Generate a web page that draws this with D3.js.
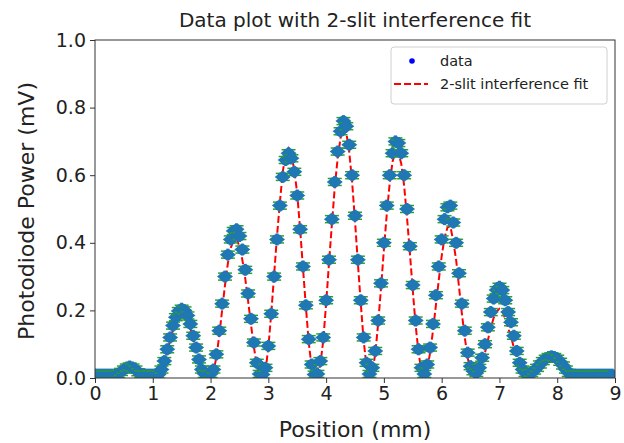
<!DOCTYPE html>
<html>
<head>
<meta charset="utf-8">
<script src="https://cdn.jsdelivr.net/npm/d3@7"></script>
<style>
  body { margin: 0; background: #fff; }
  svg { display: block; font-family: 'DejaVu Sans', sans-serif; }
</style>
</head>
<body>
<div id="chart"></div>
<script>
// detector position (mm), one sample every 0.05 mm
const positions = [
  0.00, 0.05, 0.10, 0.15, 0.20, 0.25, 0.30, 0.35, 0.40, 0.45,
  0.50, 0.55, 0.60, 0.65, 0.70, 0.75, 0.80, 0.85, 0.90, 0.95,
  1.00, 1.05, 1.10, 1.15, 1.20, 1.25, 1.30, 1.35, 1.40, 1.45,
  1.50, 1.55, 1.60, 1.65, 1.70, 1.75, 1.80, 1.85, 1.90, 1.95,
  2.00, 2.05, 2.10, 2.15, 2.20, 2.25, 2.30, 2.35, 2.40, 2.45,
  2.50, 2.55, 2.60, 2.65, 2.70, 2.75, 2.80, 2.85, 2.90, 2.95,
  3.00, 3.05, 3.10, 3.15, 3.20, 3.25, 3.30, 3.35, 3.40, 3.45,
  3.50, 3.55, 3.60, 3.65, 3.70, 3.75, 3.80, 3.85, 3.90, 3.95,
  4.00, 4.05, 4.10, 4.15, 4.20, 4.25, 4.30, 4.35, 4.40, 4.45,
  4.50, 4.55, 4.60, 4.65, 4.70, 4.75, 4.80, 4.85, 4.90, 4.95,
  5.00, 5.05, 5.10, 5.15, 5.20, 5.25, 5.30, 5.35, 5.40, 5.45,
  5.50, 5.55, 5.60, 5.65, 5.70, 5.75, 5.80, 5.85, 5.90, 5.95,
  6.00, 6.05, 6.10, 6.15, 6.20, 6.25, 6.30, 6.35, 6.40, 6.45,
  6.50, 6.55, 6.60, 6.65, 6.70, 6.75, 6.80, 6.85, 6.90, 6.95,
  7.00, 7.05, 7.10, 7.15, 7.20, 7.25, 7.30, 7.35, 7.40, 7.45,
  7.50, 7.55, 7.60, 7.65, 7.70, 7.75, 7.80, 7.85, 7.90, 7.95,
  8.00, 8.05, 8.10, 8.15, 8.20, 8.25, 8.30, 8.35, 8.40, 8.45,
  8.50, 8.55, 8.60, 8.65, 8.70, 8.75, 8.80, 8.85, 8.90, 8.95,
  9.00,
];

// measured photodiode power (mV), positions 0.00 .. 8.95
const dataPower = [
  0.010, 0.010, 0.010, 0.010, 0.010, 0.010, 0.010, 0.010, 0.012, 0.018,
  0.025, 0.031, 0.034, 0.031, 0.025, 0.017, 0.011, 0.010, 0.010, 0.010,
  0.010, 0.010, 0.010, 0.025, 0.050, 0.085, 0.120, 0.155, 0.180, 0.198,
  0.205, 0.200, 0.185, 0.160, 0.125, 0.090, 0.055, 0.025, 0.012, 0.010,
  0.012, 0.025, 0.070, 0.140, 0.220, 0.300, 0.365, 0.410, 0.435, 0.440,
  0.420, 0.380, 0.320, 0.250, 0.175, 0.105, 0.045, 0.012, 0.010, 0.030,
  0.095, 0.190, 0.300, 0.410, 0.510, 0.595, 0.645, 0.665, 0.650, 0.610,
  0.540, 0.440, 0.330, 0.215, 0.115, 0.040, 0.010, 0.012, 0.050, 0.120,
  0.230, 0.350, 0.470, 0.580, 0.670, 0.730, 0.760, 0.745, 0.690, 0.600,
  0.480, 0.350, 0.230, 0.120, 0.045, 0.012, 0.030, 0.080, 0.170, 0.280,
  0.400, 0.510, 0.600, 0.665, 0.700, 0.695, 0.665, 0.600, 0.500, 0.390,
  0.275, 0.170, 0.085, 0.030, 0.012, 0.040, 0.090, 0.160, 0.245, 0.330,
  0.410, 0.470, 0.505, 0.510, 0.460, 0.400, 0.310, 0.220, 0.140, 0.075,
  0.035, 0.020, 0.015, 0.030, 0.060, 0.100, 0.150, 0.195, 0.235, 0.260,
  0.270, 0.260, 0.230, 0.195, 0.165, 0.125, 0.080, 0.045, 0.025, 0.015,
  0.012, 0.015, 0.022, 0.030, 0.040, 0.050, 0.057, 0.062, 0.064, 0.062,
  0.057, 0.048, 0.037, 0.025, 0.015, 0.010, 0.010, 0.010, 0.010, 0.010,
  0.010, 0.010, 0.010, 0.010, 0.010, 0.010, 0.010, 0.010, 0.010, 0.010,
];

// fitted 2-slit curve (mV), positions 0.00 .. 9.00
const fitPower = [
  0.000, 0.000, 0.000, 0.000, 0.000, 0.000, 0.000, 0.000, 0.003, 0.008,
  0.014, 0.019, 0.021, 0.019, 0.014, 0.008, 0.003, 0.000, 0.000, 0.000,
  0.000, 0.000, 0.005, 0.020, 0.045, 0.078, 0.110, 0.142, 0.167, 0.183,
  0.190, 0.185, 0.170, 0.147, 0.115, 0.082, 0.048, 0.020, 0.005, 0.000,
  0.005, 0.020, 0.060, 0.125, 0.200, 0.275, 0.340, 0.385, 0.408, 0.410,
  0.390, 0.350, 0.295, 0.228, 0.158, 0.092, 0.038, 0.006, 0.000, 0.020,
  0.090, 0.190, 0.305, 0.420, 0.520, 0.610, 0.665, 0.680, 0.660, 0.615,
  0.545, 0.440, 0.325, 0.210, 0.105, 0.030, 0.000, 0.005, 0.040, 0.110,
  0.220, 0.340, 0.455, 0.565, 0.650, 0.710, 0.740, 0.725, 0.670, 0.580,
  0.465, 0.340, 0.220, 0.110, 0.035, 0.002, 0.020, 0.070, 0.160, 0.265,
  0.380, 0.485, 0.575, 0.640, 0.670, 0.665, 0.635, 0.570, 0.475, 0.370,
  0.260, 0.155, 0.075, 0.020, 0.000, 0.025, 0.075, 0.140, 0.215, 0.290,
  0.360, 0.415, 0.445, 0.450, 0.405, 0.350, 0.270, 0.190, 0.120, 0.060,
  0.022, 0.004, 0.000, 0.015, 0.040, 0.075, 0.112, 0.148, 0.178, 0.197,
  0.205, 0.198, 0.175, 0.148, 0.122, 0.090, 0.057, 0.030, 0.012, 0.002,
  0.000, 0.003, 0.008, 0.015, 0.024, 0.033, 0.041, 0.047, 0.050, 0.048,
  0.043, 0.035, 0.026, 0.016, 0.008, 0.003, 0.000, 0.000, 0.000, 0.000,
  0.000, 0.000, 0.000, 0.000, 0.000, 0.000, 0.000, 0.000, 0.000, 0.000,
  0.000,
];

const xTicks = [0, 1, 2, 3, 4, 5, 6, 7, 8, 9];
const yTicks = [0, 0.2, 0.4, 0.6, 0.8, 1.0];
const seriesNames = ['data', '2-slit interference fit'];

const width = 624;
const height = 443;
const margin = {top: 40, right: 9, bottom: 65, left: 95};
const plotW = width - margin.left - margin.right;
const plotH = height - margin.top - margin.bottom;

const svg = d3.select('#chart').append('svg')
  .attr('width', width)
  .attr('height', height);

const g = svg.append('g')
  .attr('transform', `translate(${margin.left},${margin.top})`);

const scaleX = d3.scaleLinear().domain([0, 9]).range([0, plotW]);
const scaleY = d3.scaleLinear().domain([0, 1]).range([plotH, 0]);

g.append('clipPath')
  .attr('id', 'plot-clip')
  .append('rect')
  .attr('width', plotW)
  .attr('height', plotH);

const plot = g.append('g').attr('clip-path', 'url(#plot-clip)');

// fit curve (sits under the data markers)
const line = d3.line()
  .x((d, i) => scaleX(positions[i]))
  .y((d) => scaleY(d));

plot.append('path')
  .datum(fitPower)
  .attr('d', line)
  .style('fill', 'none')
  .style('stroke', '#ff0000')
  .style('stroke-width', 2)
  .style('stroke-dasharray', '7,3');

// data points with error bars
const points = dataPower.map((v, i) => ({x: positions[i], y: v}));

const marks = plot.selectAll('.pt')
  .data(points)
  .enter().append('g')
  .attr('class', 'pt')
  .attr('transform', (d) => `translate(${scaleX(d.x)},${scaleY(d.y)})`);

marks.append('line')
  .attr('x1', -7).attr('x2', 7)
  .attr('y1', -3.5).attr('y2', -3.5)
  .style('stroke', '#2ca02c')
  .style('stroke-width', 1.5);

marks.append('line')
  .attr('x1', -7).attr('x2', 7)
  .attr('y1', 3.5).attr('y2', 3.5)
  .style('stroke', '#2ca02c')
  .style('stroke-width', 1.5);

marks.append('path')
  .attr('d', 'M-8,0 L-3,-4 L3,-4 L8,0 L3,4 L-3,4 Z')
  .style('fill', '#1f77b4');

marks.append('line')
  .attr('y1', -6).attr('y2', 6)
  .style('stroke', '#1f77b4')
  .style('stroke-width', 3);

marks.append('circle')
  .attr('r', 5.5)
  .style('fill', '#1f77b4');

// axes
const xAxis = d3.axisBottom(scaleX).tickValues(xTicks)
  .tickSize(5).tickSizeOuter(0).tickPadding(4).tickFormat(d3.format('d'));
const yAxis = d3.axisLeft(scaleY).tickValues(yTicks)
  .tickSize(5).tickSizeOuter(0).tickPadding(4).tickFormat(d3.format('.1f'));

const gx = g.append('g')
  .attr('transform', `translate(0,${plotH})`)
  .call(xAxis);
const gy = g.append('g').call(yAxis);

[gx, gy].forEach((ax) => {
  ax.select('.domain').remove();
  ax.selectAll('text')
    .style('font-family', "'DejaVu Sans', sans-serif")
    .style('font-size', '19px')
    .style('fill', '#222');
  ax.selectAll('line').style('stroke', '#333');
});

g.append('rect')
  .attr('width', plotW)
  .attr('height', plotH)
  .style('fill', 'none')
  .style('stroke', '#333')
  .style('stroke-width', 1);

// labels
svg.append('text')
  .attr('x', margin.left + plotW / 2)
  .attr('y', 27)
  .attr('text-anchor', 'middle')
  .style('font-size', '20px')
  .style('fill', '#222')
  .text('Data plot with 2-slit interference fit');

svg.append('text')
  .attr('x', margin.left + plotW / 2)
  .attr('y', 437)
  .attr('text-anchor', 'middle')
  .style('font-size', '22px')
  .style('fill', '#222')
  .text('Position (mm)');

svg.append('text')
  .attr('transform', `translate(34,${margin.top + plotH / 2 + 2}) rotate(-90)`)
  .attr('text-anchor', 'middle')
  .style('font-size', '22px')
  .style('fill', '#222')
  .text('Photodiode Power (mV)');

// legend
const legend = g.append('g')
  .attr('transform', `translate(${plotW - 224},7)`);

legend.append('rect')
  .attr('width', 216)
  .attr('height', 57)
  .attr('rx', 3)
  .style('fill', '#fff')
  .style('fill-opacity', 0.8)
  .style('stroke', '#d0d0d0');

legend.append('circle')
  .attr('cx', 21).attr('cy', 14)
  .attr('r', 2.8)
  .style('fill', '#0000ff');

legend.append('line')
  .attr('x1', 3).attr('x2', 37)
  .attr('y1', 37).attr('y2', 37)
  .style('stroke', '#ff0000')
  .style('stroke-width', 2)
  .style('stroke-dasharray', '7,3');

legend.selectAll('.lbl')
  .data(seriesNames)
  .enter().append('text')
  .attr('class', 'lbl')
  .attr('x', 49)
  .attr('y', (d, i) => 19 + i * 23)
  .style('font-size', '14.5px')
  .style('fill', '#222')
  .text((d) => d);
</script>
</body>
</html>
